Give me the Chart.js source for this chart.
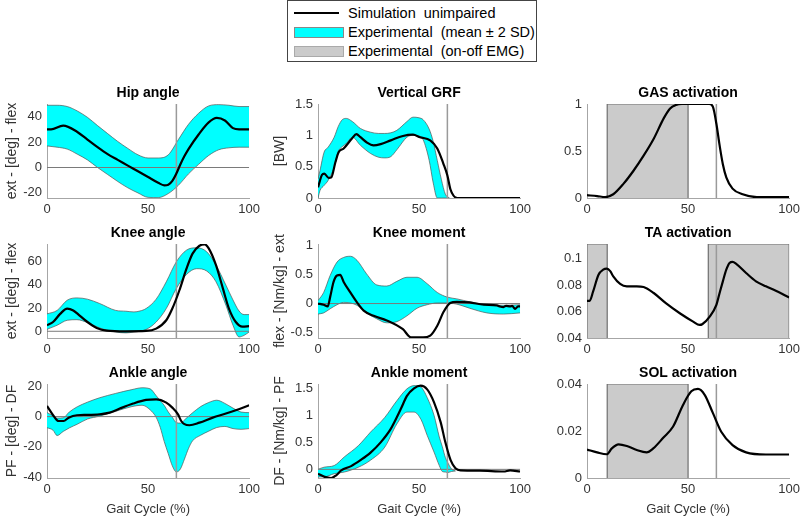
<!DOCTYPE html>
<html lang="en">
<head>
<meta charset="utf-8">
<script src="https://cdn.jsdelivr.net/npm/chart.js"></script>
<style>
  body {
    margin: 0;
    width: 806px;
    height: 521px;
    position: relative;
    overflow: hidden;
    background: #fff;
    font-family: 'Liberation Sans', Arial, sans-serif;
  }
  canvas { position: absolute; }
  #legend {
    position: absolute;
    left: 287px; top: 0px;
    width: 248px; height: 60px;
    border: 1px solid #444;
    background: #fff;
  }
  #legend .tx {
    position: absolute;
    left: 60px;
    font-size: 14.5px;
    line-height: 18px;
    white-space: pre;
    color: #000;
  }
  #legend .sw {
    position: absolute;
    left: 6px;
    width: 48px; height: 9px;
  }
</style>
</head>
<body>

<div id="legend">
  <div class="sw" style="top:11px;height:2px;width:45px;background:#000"></div>
  <div class="tx" style="top:3px">Simulation  unimpaired</div>
  <div class="sw" style="top:26px;background:#00ffff;border:1px solid #888"></div>
  <div class="tx" style="top:22px">Experimental  (mean ± 2 SD)</div>
  <div class="sw" style="top:45px;background:#cbcbcb;border:1px solid #aaa"></div>
  <div class="tx" style="top:41px">Experimental  (on-off EMG)</div>
</div>

<canvas id="hip" width="263" height="137" style="left:1px;top:85px"></canvas>
<canvas id="grf" width="263" height="137" style="left:272px;top:85px"></canvas>
<canvas id="gas" width="263" height="137" style="left:541px;top:85px"></canvas>
<canvas id="knee" width="263" height="137" style="left:1px;top:225px"></canvas>
<canvas id="kmom" width="263" height="137" style="left:272px;top:225px"></canvas>
<canvas id="ta" width="263" height="137" style="left:541px;top:225px"></canvas>
<canvas id="ankle" width="263" height="156" style="left:1px;top:365px"></canvas>
<canvas id="amom" width="263" height="156" style="left:272px;top:365px"></canvas>
<canvas id="sol" width="263" height="156" style="left:541px;top:365px"></canvas>

<script>
  // gait cycle ticks and toe-off
  const xTicks = [0, 50, 100];
  const toeOff = 64;

  // Hip angle
  const hipSimX = [0, 2, 8, 15, 20, 25, 30, 35, 40, 45, 50, 55, 58, 60, 62, 64, 66, 68, 70, 75, 80, 84, 88, 92, 95, 100];
  const hipSimY = [30, 30, 33, 28, 22, 16, 10.5, 6, 1.5, -3, -7.5, -12, -14, -13.5, -10.5, -4.7, 2.6, 9, 14.5, 26, 35.5, 39, 37, 31, 30, 30];
  const hipBandX = [0, 5, 10, 15, 20, 25, 30, 35, 40, 45, 50, 55, 60, 65, 70, 75, 80, 85, 90, 95, 100];
  const hipUpper = [49, 49, 48, 44.5, 39.5, 33, 26.7, 20.5, 15, 10, 7.5, 7.5, 10, 22, 34, 42.7, 48.5, 49.5, 49, 48, 48];
  const hipLower = [17, 16, 14.5, 10.5, 6, 0, -5.5, -11, -16, -20, -23.5, -23.7, -20.5, -14, -5, 2.5, 9.5, 14, 15.5, 16, 16];

  // Vertical GRF
  const grfSimX = [0, 2, 3.1, 5.3, 6.6, 8.6, 10.2, 12.7, 16.8, 19, 21, 24, 27.5, 31, 36, 42, 47, 50.5, 55.5, 59, 62, 64, 65.5, 67, 68, 70, 100];
  const grfSimY = [0.17, 0.37, 0.39, 0.32, 0.33, 0.57, 0.73, 0.79, 0.95, 1.02, 0.97, 0.89, 0.84, 0.86, 0.92, 0.99, 1.01, 0.97, 0.92, 0.79, 0.55, 0.36, 0.14, 0.04, 0.01, 0, 0];
  const grfBandX = [0, 1, 3, 5, 8, 10, 12, 14, 17, 21, 26, 30, 33, 36, 39, 44, 47, 50, 52, 55, 57, 59, 61, 63, 65];
  const grfUpper = [0.3, 0.44, 0.73, 0.81, 0.97, 1.14, 1.25, 1.27, 1.22, 1.11, 1.05, 1.03, 1.03, 1.04, 1.08, 1.22, 1.29, 1.28, 1.25, 1.1, 0.9, 0.6, 0.3, 0.06, 0];
  const grfLower = [0, 0.12, 0.2, 0.28, 0.49, 0.74, 0.82, 0.87, 0.97, 0.84, 0.71, 0.65, 0.64, 0.66, 0.77, 0.97, 1.0, 0.99, 0.93, 0.6, 0.24, 0, 0, 0, 0];

  // GAS activation
  const gasSimX = [0, 5, 9, 13, 18, 23, 28, 33, 38, 41, 44, 47, 60.5, 62.3, 64, 65.6, 67.2, 68.9, 72, 77, 84, 100];
  const gasSimY = [0.03, 0.02, 0.01, 0.04, 0.15, 0.29, 0.45, 0.63, 0.85, 0.95, 0.99, 1, 1, 0.97, 0.79, 0.56, 0.36, 0.22, 0.1, 0.04, 0.01, 0.01];
  const gasEmg = [[10, 50]];

  // Knee angle
  const kneeSimX = [0, 3, 6.5, 10, 13, 16, 20, 24.6, 29.5, 39, 49, 54, 59, 62, 65.5, 69, 72, 75.4, 78, 80, 83.6, 87, 90, 93.4, 96.7, 100];
  const kneeSimY = [5.2, 8, 15, 19.6, 18, 13.8, 8, 2.9, 0.6, 0, 0.3, 2.3, 9.5, 19.6, 35.4, 54, 67, 73.8, 75, 71.5, 57, 37, 19.6, 8, 4, 4.5];
  const kneeBandX = [0, 5, 10, 14.8, 20, 26, 34, 39, 43, 46, 49, 54, 59, 64, 69, 74, 79, 83.6, 88.5, 92, 95, 97.5, 100];
  const kneeUpper = [15, 18, 26.8, 28.8, 27.7, 24, 18, 17.3, 16.7, 17.5, 19.6, 27.7, 42.7, 60, 70, 72, 68.6, 57, 39.8, 27, 17.5, 14.4, 14.4];
  const kneeLower = [1.7, 5.2, 9.5, 10, 7.5, 2.9, -0.6, -1.4, -0.7, 0, 1.5, 8, 19.6, 37, 49, 54, 52, 42.7, 22.5, 5.2, -4.9, -3.5, -0.6];

  // Knee moment
  const kmomSimX = [0, 2.8, 4.8, 6, 7.7, 9.4, 11, 12.7, 16, 19.3, 22.6, 27.5, 34, 42, 46, 52, 55.5, 59, 62, 65.4, 68.7, 75, 82, 88.5, 90, 91.8, 93, 95, 96, 97.5, 99, 100];
  const kmomSimY = [0, -0.02, -0.05, 0.11, 0.37, 0.48, 0.49, 0.37, 0.19, 0.02, -0.12, -0.21, -0.29, -0.44, -0.58, -0.58, -0.55, -0.38, -0.15, 0.01, 0.03, 0.02, -0.02, -0.03, -0.05, -0.06, -0.04, -0.05, -0.04, -0.09, -0.05, -0.05];
  const kmomBandX = [0, 2.8, 6, 9.4, 12.7, 16, 19.3, 24, 29, 34, 39, 44, 49, 54, 59, 64, 68.7, 75, 83.5, 91.8, 100];
  const kmomUpper = [0.05, 0.19, 0.48, 0.71, 0.79, 0.81, 0.74, 0.51, 0.32, 0.3, 0.38, 0.45, 0.45, 0.34, 0.19, 0.11, 0.08, 0.03, -0.02, -0.03, -0.02];
  const kmomLower = [-0.18, -0.16, -0.09, -0.02, 0.02, 0.01, -0.03, -0.16, -0.26, -0.33, -0.31, -0.21, -0.08, -0.02, 0.01, 0.01, -0.01, -0.08, -0.16, -0.18, -0.16];

  // TA activation
  const taSimX = [0, 1.3, 3, 5.7, 8, 9.8, 11.5, 13, 16.4, 19.7, 24.6, 28, 33, 39, 45.9, 52.5, 55.7, 57, 60.7, 64, 65.6, 67.2, 68.9, 70.5, 72, 73.8, 78.7, 83.6, 88.5, 93.4, 100];
  const taSimY = [0.068, 0.068, 0.075, 0.0878, 0.0916, 0.0924, 0.0905, 0.0866, 0.0808, 0.079, 0.079, 0.0785, 0.074, 0.0663, 0.0587, 0.0524, 0.0499, 0.0504, 0.0562, 0.065, 0.074, 0.0828, 0.0916, 0.0967, 0.0975, 0.096, 0.0891, 0.0828, 0.079, 0.0757, 0.0706];
  const taEmg = [[0, 10], [60, 100]];

  // Ankle angle
  const ankleSimX = [0, 3.3, 5.7, 8.2, 10.7, 14.8, 19.7, 26, 31, 36, 42.6, 49, 54, 59, 62, 64.8, 66.4, 68, 70.5, 75.4, 82, 88.5, 93.4, 100];
  const ankleSimY = [7, 0.4, -2.9, -2.9, -0.7, 0.9, 1.1, 1.5, 2.6, 5.3, 8.6, 11, 11.4, 9.2, 5.9, 1.5, -2.9, -5, -5.7, -4, -0.7, 2, 4.2, 7.5];
  const ankleBandX = [0, 3, 5, 8, 11, 15, 20, 26, 34, 42, 47, 51, 54, 56, 58, 60, 62, 64, 66, 68, 70, 72, 76, 80, 84, 88, 92, 96, 100];
  const ankleUpper = [2.6, 0.6, -1, -0.8, 3, 6.5, 9.5, 12.4, 15.3, 17.8, 19, 18.3, 13.8, 10.5, 7.4, 3, -0.5, -4, -4.3, -2.2, 0.2, 2.5, 6.6, 9.3, 10.8, 8.7, 5.6, 3, 2.6];
  const ankleLower = [-7.3, -9, -12.5, -9.8, -7.5, -5, -1.6, 0.3, 3.5, 6.6, 7.5, 4.5, -0.5, -7, -16.5, -24.5, -32.5, -36.5, -34.5, -28, -21, -16, -12.3, -9.6, -7.2, -6.5, -7.9, -8.4, -7.9];

  // Ankle moment
  const amomSimX = [0, 3.3, 6.5, 9, 11.5, 16.4, 21, 26, 31, 36, 41, 44, 47.5, 50.8, 54, 57.4, 60.7, 63, 65.6, 68, 70.5, 80, 91.8, 95, 100];
  const amomSimY = [-0.08, -0.14, -0.16, -0.11, -0.02, 0.06, 0.17, 0.31, 0.5, 0.75, 1.12, 1.36, 1.5, 1.55, 1.48, 1.24, 0.87, 0.5, 0.17, 0.02, -0.02, -0.025, -0.04, -0.02, -0.04];
  const amomBandX = [0, 3, 8, 13, 20, 26, 33, 39, 44, 47.5, 51, 54, 57.4, 60, 61.5, 63, 64, 66, 68];
  const amomUpper = [0, 0.04, 0.07, 0.23, 0.44, 0.69, 0.96, 1.27, 1.49, 1.55, 1.52, 1.33, 1.0, 0.6, 0.42, 0.22, 0.14, 0.01, -0.03];
  const amomLower = [-0.14, -0.14, -0.08, -0.05, 0.04, 0.17, 0.41, 0.84, 1.06, 1.06, 0.92, 0.63, 0.32, 0.07, -0.04, -0.05, -0.06, -0.04, -0.03];

  // SOL activation
  const solSimX = [0, 5, 9.8, 12.3, 15.6, 19.7, 24.6, 29.5, 32.8, 37.7, 42.6, 47.5, 51.6, 54.9, 58.2, 62.3, 66.4, 72, 78.7, 88.5, 100];
  const solSimY = [0.0121, 0.0109, 0.0101, 0.0126, 0.0143, 0.0136, 0.0119, 0.0109, 0.0126, 0.0171, 0.0219, 0.0311, 0.0369, 0.0379, 0.0354, 0.0276, 0.0197, 0.014, 0.0109, 0.01, 0.01];
  const solEmg = [[10, 50]];

  Chart.defaults.font.family = "'Liberation Sans', Arial, sans-serif";

  function xy(xs, ys) {
    return xs.map((v, i) => ({ x: v, y: ys[i] }));
  }

  function panel(id, p) {
    const ds = [];
    (p.emg || []).forEach(function (b) {
      ds.push({
        data: [{ x: b[0], y: p.min }, { x: b[0], y: p.max }, { x: b[1], y: p.max }, { x: b[1], y: p.min }],
        borderColor: '#6e6e6e', borderWidth: 1.2, backgroundColor: '#cbcbcb',
        fill: 'start', tension: 0, cubicInterpolationMode: 'default', order: 6
      });
    });
    if (p.band) {
      ds.push({ data: xy(p.band[0], p.band[1]), borderColor: '#555', borderWidth: 0.7, backgroundColor: '#00ffff', fill: '+1', order: 5 });
      ds.push({ data: xy(p.band[0], p.band[2]), borderColor: '#555', borderWidth: 0.7, fill: false, order: 4 });
    }
    if (p.zero) {
      ds.push({ data: [{ x: 0, y: 0 }, { x: 100, y: 0 }], borderColor: '#7a7a7a', borderWidth: 1, tension: 0, cubicInterpolationMode: 'default', order: 3 });
    }
    ds.push({ data: [{ x: toeOff, y: p.min }, { x: toeOff, y: p.max }], borderColor: '#9a9a9a', borderWidth: 1.5, tension: 0, cubicInterpolationMode: 'default', order: 2 });
    ds.push({ data: xy(p.simX, p.simY), borderColor: '#000', borderWidth: 2.2, fill: false, order: 1 });

    new Chart(document.getElementById(id), {
      type: 'line',
      data: { datasets: ds },
      options: {
        responsive: false,
        animation: false,
        events: [],
        layout: { padding: { right: 14 } },
        elements: { point: { radius: 0 }, line: { cubicInterpolationMode: 'monotone' } },
        plugins: {
          legend: { display: false },
          tooltip: { enabled: false },
          title: { display: true, fullSize: false, text: p.title, color: '#000', font: { size: 14, weight: 'bold' }, padding: { top: 0, bottom: 2.2 } }
        },
        scales: {
          x: {
            type: 'linear', min: 0, max: 100,
            grid: { display: false, drawTicks: false },
            border: { color: '#a6a6a6', width: 1 },
            ticks: { color: '#333', font: { size: 13 }, padding: 4, maxRotation: 0, autoSkip: false },
            afterBuildTicks: s => { s.ticks = xTicks.map(v => ({ value: v })); },
            afterFit: s => { s.height = p.hx; },
            title: { display: !!p.xTitle, text: p.xTitle, color: '#333', font: { size: 13 }, padding: { top: 0, bottom: 4 } }
          },
          y: {
            type: 'linear', min: p.min, max: p.max,
            grid: { display: false, drawTicks: false },
            border: { color: '#a6a6a6', width: 1 },
            ticks: { color: '#333', font: { size: 13 }, padding: 5, autoSkip: false, callback: v => String(v) },
            afterBuildTicks: s => { s.ticks = p.ticks.map(v => ({ value: v })); },
            afterFit: s => { s.width = 46; },
            title: { display: !!p.yTitle, text: p.yTitle, color: '#333', font: { size: 14 }, padding: { top: p.yPad || 0, bottom: 0 } }
          }
        }
      }
    });
  }

  panel('hip', { title: 'Hip angle', yTitle: 'ext - [deg] - flex', yPad: 2.4, min: -24, max: 50, ticks: [-20, 0, 20, 40],
    band: [hipBandX, hipUpper, hipLower], simX: hipSimX, simY: hipSimY, zero: true, hx: 24 });
  panel('grf', { title: 'Vertical GRF', yTitle: '[BW]', min: 0, max: 1.5, ticks: [0, 0.5, 1, 1.5],
    band: [grfBandX, grfUpper, grfLower], simX: grfSimX, simY: grfSimY, hx: 24 });
  panel('gas', { title: 'GAS activation', min: 0, max: 1, ticks: [0, 0.5, 1],
    emg: gasEmg, simX: gasSimX, simY: gasSimY, hx: 24 });

  panel('knee', { title: 'Knee angle', yTitle: 'ext - [deg] - flex', yPad: 2.4, min: -5.8, max: 75.3, ticks: [0, 20, 40, 60],
    band: [kneeBandX, kneeUpper, kneeLower], simX: kneeSimX, simY: kneeSimY, zero: true, hx: 24 });
  panel('kmom', { title: 'Knee moment', yTitle: 'flex - [Nm/kg] - ext', min: -0.59, max: 1.02, ticks: [-0.5, 0, 0.5, 1],
    band: [kmomBandX, kmomUpper, kmomLower], simX: kmomSimX, simY: kmomSimY, zero: true, hx: 24 });
  panel('ta', { title: 'TA activation', min: 0.04, max: 0.111, ticks: [0.04, 0.06, 0.08, 0.1],
    emg: taEmg, simX: taSimX, simY: taSimY, hx: 24 });

  panel('ankle', { title: 'Ankle angle', yTitle: 'PF - [deg] - DF', yPad: 2.4, min: -40.5, max: 21.5, ticks: [-40, -20, 0, 20],
    band: [ankleBandX, ankleUpper, ankleLower], simX: ankleSimX, simY: ankleSimY, zero: true, hx: 43, xTitle: 'Gait Cycle (%)' });
  panel('amom', { title: 'Ankle moment', yTitle: 'DF - [Nm/kg] - PF', min: -0.16, max: 1.58, ticks: [0, 0.5, 1, 1.5],
    band: [amomBandX, amomUpper, amomLower], simX: amomSimX, simY: amomSimY, zero: true, hx: 43, xTitle: 'Gait Cycle (%)' });
  panel('sol', { title: 'SOL activation', min: 0, max: 0.04, ticks: [0, 0.02, 0.04],
    emg: solEmg, simX: solSimX, simY: solSimY, hx: 43, xTitle: 'Gait Cycle (%)' });
</script>
</body>
</html>
